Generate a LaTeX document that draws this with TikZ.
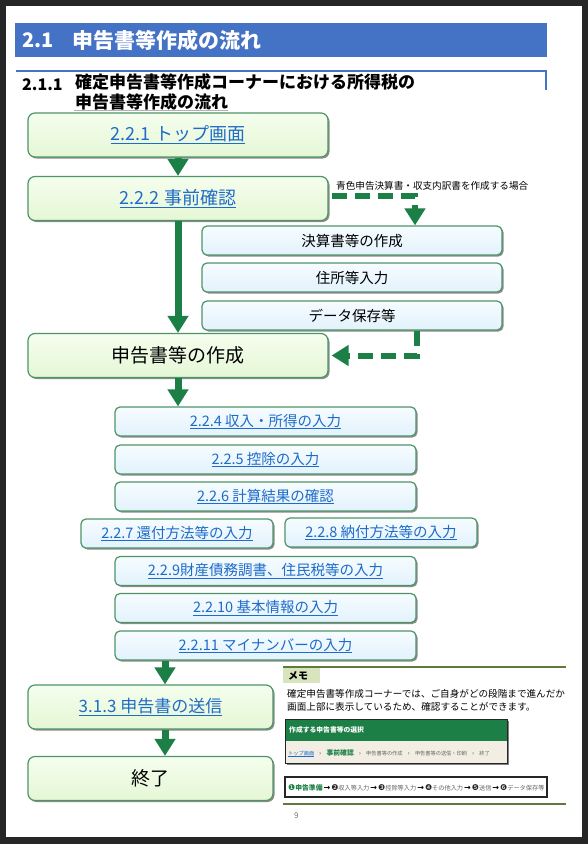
\documentclass[tikz,border=0pt]{standalone}
\usepackage{fontspec}
\setmainfont{Noto Sans CJK JP}
\newfontfamily\symfont{DejaVu Sans}
\usetikzlibrary{arrows.meta,shadows}
\definecolor{pageedge}{HTML}{262626}
\definecolor{headblue}{HTML}{4472C4}
\definecolor{flowgreen}{HTML}{1B7F46}
\definecolor{boxedge}{HTML}{4F9468}
\definecolor{stagetop}{HTML}{F5FEEE}
\definecolor{stagebottom}{HTML}{E5F7D5}
\definecolor{steptop}{HTML}{F6FCFF}
\definecolor{stepbottom}{HTML}{E2F2FC}
\definecolor{linkblue}{HTML}{1F6BC9}
\definecolor{memoline}{HTML}{5E7B3A}
\definecolor{memofill}{HTML}{D7E4BD}
\definecolor{crumbfill}{HTML}{F2EEE3}
\newcommand\lnk[1]{\setbox0\hbox{#1}\rlap{\rule[-0.2em]{\wd0}{0.07em}}\box0}
\newcommand\crumbsep{\hspace{5pt}{\symfont\fontsize{6}{7}\selectfont ›}\hspace{5pt}}
\newcommand\stepnum[1]{\hspace{1pt}{\symfont\bfseries\color{black}\fontsize{8}{9}\selectfont →}\hspace{1pt}{\symfont\color{black!85}\fontsize{8}{9}\selectfont #1}}
\tikzset{
    stagebox/.style={
        draw=boxedge, line width=1.2pt, rounded corners=7pt,
        top color=stagetop, bottom color=stagebottom,
        drop shadow={shadow xshift=1.5pt, shadow yshift=-1.5pt, fill=black!45, opacity=1},
        minimum width=300pt, minimum height=44pt, inner sep=0pt,
        font=\fontsize{18}{20}\selectfont
    },
    stepbox/.style={
        stagebox, rounded corners=5pt,
        top color=steptop, bottom color=stepbottom,
        minimum height=29pt,
        font=\fontsize{14.5}{16}\selectfont
    },
    halfbox/.style={stepbox, minimum width=192pt},
    linktext/.style={text=linkblue},
    plaintext/.style={inner sep=0pt, anchor=west},
    flow/.style={flowgreen, line width=7pt, -{Triangle[width=20pt,length=17pt]}},
    branch/.style={flow, line width=6pt, dash pattern=on 15pt off 8pt}
}
\begin{document}
\begin{tikzpicture}[x=1pt,y=-1pt]
    \useasboundingbox (0,0) rectangle (588,844);
    \fill[pageedge] (0,0) rectangle (588,844);
    \fill[white] (6,6) rectangle (582,837);

    % headings
    \fill[headblue] (15,23) rectangle (547,57);
    \node[plaintext, text=white, font=\bfseries\fontsize{20}{22}\selectfont] (secnum) at (22,40.5) {2.1};
    \node[plaintext, text=white, font=\bfseries\fontsize{21}{23}\selectfont] (sectitle) at (72,40.5) {申告書等作成の流れ};
    \draw[headblue, line width=1.2pt] (16,71) -- (546,71) -- (546,90);
    \node[plaintext, font=\bfseries\fontsize{16}{18}\selectfont] (subnum) at (22,85) {2.1.1};
    \node[plaintext, font=\bfseries\fontsize{17}{19}\selectfont] (subtitle) at (75,82.5) {確定申告書等作成コーナーにおける所得税の};
    \node[plaintext, font=\bfseries\fontsize{17}{19}\selectfont] (subtitlecont) at (75,102.5) {申告書等作成の流れ};
    \draw[black!30, line width=0.8pt] (74,110) -- (228,110);

    \node[stagebox, linktext] (toppage) at (178,135) {\lnk{2.2.1 トップ画面}};
    \node[stagebox, linktext] (jizen) at (178,198.5) {\lnk{2.2.2 事前確認}};
    \node[stepbox] (kessan) at (352,240.5) {決算書等の作成};
    \node[stepbox] (jusho) at (352,277.5) {住所等入力};
    \node[stepbox] (hozon) at (352,315.5) {データ保存等};
    \node[stagebox, font=\fontsize{19}{21}\selectfont] (sakusei) at (178,355.5) {申告書等の作成};
    \node[stepbox, linktext, minimum width=301pt] (shunyu) at (265.5,421.5) {\lnk{2.2.4 収入・所得の入力}};
    \node[stepbox, linktext, minimum width=301pt] (kojo) at (265.5,459.5) {\lnk{2.2.5 控除の入力}};
    \node[stepbox, linktext, minimum width=301pt] (keisan) at (265.5,496.5) {\lnk{2.2.6 計算結果の確認}};
    \node[halfbox, linktext] (kanpu) at (177,533.5) {\lnk{2.2.7 還付方法等の入力}};
    \node[halfbox, linktext] (nofu) at (381,532.5) {\lnk{2.2.8 納付方法等の入力}};
    \node[stepbox, linktext, minimum width=301pt] (zaisan) at (265.5,571) {\lnk{2.2.9財産債務調書、住民税等の入力}};
    \node[stepbox, linktext, minimum width=301pt] (kihon) at (265.5,608) {\lnk{2.2.10 基本情報の入力}};
    \node[stepbox, linktext, minimum width=301pt] (mynumber) at (265.5,645.5) {\lnk{2.2.11 マイナンバーの入力}};
    \node[stagebox, linktext, minimum width=245pt, font=\fontsize{17}{19}\selectfont] (soshin) at (150.5,707) {\lnk{3.1.3 申告書の送信}};
    \node[stagebox, minimum width=245pt, font=\fontsize{19}{21}\selectfont] (shuryo) at (150.5,778.5) {終了};

    \coordinate (fork) at (415,196);
    \coordinate (join) at (417,355.5);
    \coordinate (sendx) at (165,0);
    \draw[flow] (toppage) -- (jizen);
    \draw[flow] (jizen) -- (sakusei);
    \draw[branch, shorten <=3pt] (jizen.east |- fork) -- (fork) -- (fork |- kessan.north);
    \node[plaintext, font=\fontsize{9.6}{11}\selectfont] (aoiro) at (336,186) {青色申告決算書・収支内訳書を作成する場合};
    \draw[branch, shorten >=3pt] (join |- hozon.south) -- (join) -- (sakusei.east);
    \draw[flow] (sakusei.south) -- (sakusei.south |- shunyu.north);
    \draw[flow] (sendx |- mynumber.south) -- (sendx |- soshin.north);
    \draw[flow] (sendx |- soshin.south) -- (sendx |- shuryo.north);

    % memo
    \draw[memoline, line width=1.5pt] (283,667) -- (566,667);
    \fill[memofill] (283,668) rectangle (320,683);
    \node[plaintext, font=\bfseries\fontsize{10}{11}\selectfont] (memo) at (288,675.5) {メモ};
    \node[plaintext, font=\fontsize{9.6}{11}\selectfont] (memoline1) at (287,694) {確定申告書等作成コーナーでは、ご自身がどの段階まで進んだか};
    \node[plaintext, font=\fontsize{9.6}{11}\selectfont] (memoline2) at (287,707) {画面上部に表示しているため、確認することができます。};
    \fill[black!50] (287,721) rectangle (509,765);
    \fill[flowgreen] (285,719) rectangle (507,741);
    \fill[crumbfill] (285,741) rectangle (507,763);
    \draw[black!85, line width=0.8pt] (285,719) rectangle (507,763);
    \node[plaintext, text=white, font=\bfseries\fontsize{6.8}{8}\selectfont] (screentitle) at (289,730) {作成する申告書等の選択};
    \node[plaintext, text=black!60, font=\fontsize{5.2}{6}\selectfont] (crumb) at (288,753) {{\color{linkblue}\lnk{トップ画面}}\crumbsep{\color{flowgreen}\bfseries\fontsize{6.8}{8}\selectfont 事前確認}\crumbsep 申告書等の作成\crumbsep 申告書等の送信・印刷\crumbsep 終了};
    \draw[black!85, line width=1.3pt, fill=white] (285,777) rectangle (547,797);
    \node[plaintext, text=black!60, font=\fontsize{6.2}{7}\selectfont] (progress) at (288,787.5) {{\symfont\color{flowgreen}\fontsize{8}{9}\selectfont ❶}{\color{flowgreen}\bfseries\fontsize{6.8}{8}\selectfont 申告準備}\stepnum{❷}収入等入力\stepnum{❸}控除等入力\stepnum{❹}その他入力\stepnum{❺}送信\stepnum{❻}データ保存等};
    \draw[memoline, line width=1.5pt] (283,804) -- (566,804);
    \node[plaintext, text=black!55, font=\fontsize{8}{9}\selectfont] (pagenum) at (294,816) {9};
\end{tikzpicture}
\end{document}
